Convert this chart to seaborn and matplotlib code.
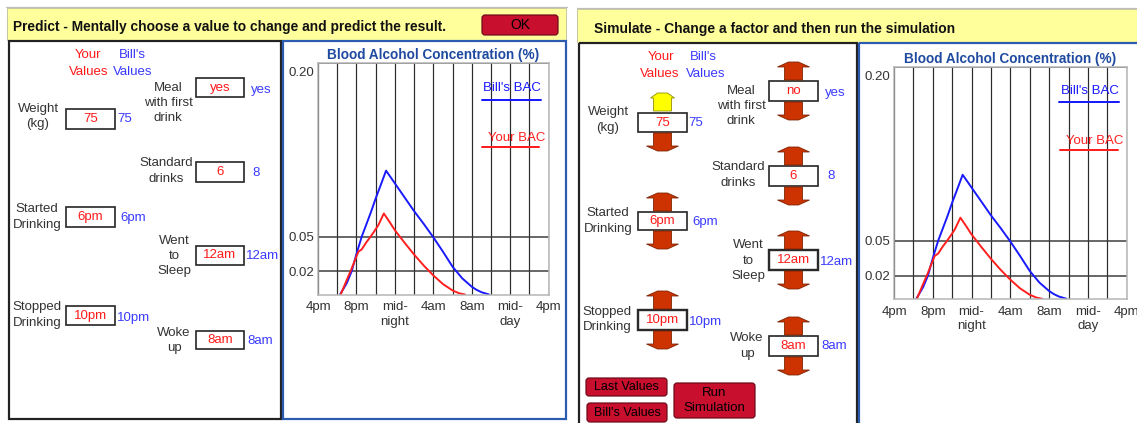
import matplotlib
matplotlib.use("Agg")
import matplotlib.pyplot as plt
import matplotlib.transforms as mtransforms
import seaborn as sns
from matplotlib.patches import Rectangle, FancyBboxPatch, Polygon
from matplotlib.lines import Line2D

# ---------------- data ----------------
# hours after 4pm
bill_hours = [2.3, 3.0, 3.5, 4.0, 4.55, 5.5, 6.0, 6.5, 7.08, 8.0, 9.0, 10.0, 11.0,
              12.0, 13.0, 14.0, 15.0, 16.0, 16.5, 17.0, 17.8]
bill_bac = [0.0, 0.010, 0.020, 0.035, 0.050, 0.071, 0.083, 0.094, 0.107, 0.096, 0.084,
            0.072, 0.061, 0.0494, 0.037, 0.024, 0.014, 0.0067, 0.004, 0.002, 0.0]
your_hours = [2.36, 2.99, 3.51, 3.85, 4.2, 4.55, 5.07, 5.42, 5.76, 6.28, 6.85, 7.5,
              8.0, 9.0, 10.0, 11.0, 12.0, 13.0, 14.0, 14.7, 15.3]
your_bac = [0.0, 0.0125, 0.0226, 0.0298, 0.037, 0.039, 0.0456, 0.0494, 0.0534, 0.060,
            0.0700, 0.062, 0.0555, 0.0448, 0.0345, 0.025, 0.0165, 0.009, 0.0035, 0.001, 0.0]

grid_hours = [2, 4, 6, 8, 10, 12, 14, 16, 18, 20, 22]
xtick_hours = [0, 4, 8, 12, 16, 20, 24]
xtick_labels = ["4pm", "8pm", "mid-\nnight", "4am", "8am", "mid-\nday", "4pm"]
ytick_values = [0.02, 0.05, 0.20]
ytick_labels = ["0.02", "0.05", "0.20"]

factor_labels = ["Weight\n(kg)", "Meal\nwith first\ndrink", "Standard\ndrinks",
                 "Started\nDrinking", "Went\nto\nSleep", "Stopped\nDrinking", "Woke\nup"]
predict_your_values = ["75", "yes", "6", "6pm", "12am", "10pm", "8am"]
simulate_your_values = ["75", "no", "6", "6pm", "12am", "10pm", "8am"]
bills_values = ["75", "yes", "8", "6pm", "12am", "10pm", "8am"]

predict_title = "Predict - Mentally choose a value to change and predict the result."
simulate_title = "Simulate - Change a factor and then run the simulation"
chart_title = "Blood Alcohol Concentration (%)"

# ---------------- style ----------------
sns.set_theme(style="white")
plt.rcParams['font.family'] = ['Liberation Sans', 'DejaVu Sans']

W, H = 1137, 423
PX = 0.72
YELLOW = "#ffff9c"
PANEL_BLUE = "#2b5cb0"
TITLE_BLUE = "#1f4aa0"
VAL_BLUE = "#3a3aff"
VAL_RED = "#ff1a1a"
LAB = "#333333"
BTN = "#c8102e"
ARROW = "#cc3300"
FS = 9.5
LS = 1.35

fig = plt.figure(figsize=(W / 100, H / 100), dpi=100)
bg = fig.add_axes([0, 0, 1, 1], zorder=0)
bg.set_xlim(0, W)
bg.set_ylim(H, 0)
bg.axis('off')


def rect(x0, y0, x1, y1, fc='none', ec='#222222', lw=1.0, z=1):
    bg.add_patch(Rectangle((x0, y0), x1 - x0, y1 - y0, facecolor=fc, edgecolor=ec,
                           linewidth=lw * PX, zorder=z))


def button(x0, y0, x1, y1, text, fs=9):
    bg.add_patch(FancyBboxPatch((x0, y0), x1 - x0, y1 - y0,
                                boxstyle="round,pad=0,rounding_size=3",
                                facecolor=BTN, edgecolor="#6a0a18", linewidth=1.2 * PX, zorder=2))
    bg.text((x0 + x1) / 2, (y0 + y1) / 2, text, ha='center', va='center', fontsize=fs,
            color='black', linespacing=1.4, zorder=3)


def arrow(cx, y0, y1, up=True, fc=ARROW, ec="#7a2200", hw=16, sw=9, tw=5, hh=5):
    if up:
        pts = [(cx - tw, y0), (cx + tw, y0), (cx + hw, y0 + hh), (cx + sw, y0 + hh),
               (cx + sw, y1), (cx - sw, y1), (cx - sw, y0 + hh), (cx - hw, y0 + hh)]
    else:
        pts = [(cx - sw, y0), (cx + sw, y0), (cx + sw, y1 - hh), (cx + hw, y1 - hh),
               (cx + tw, y1), (cx - tw, y1), (cx - hw, y1 - hh), (cx - sw, y1 - hh)]
    bg.add_patch(Polygon(pts, closed=True, facecolor=fc, edgecolor=ec, linewidth=0.8 * PX, zorder=2))


def controls(layout, your_vals, arrows=False, thick=()):
    for i, (lab, yv, bv) in enumerate(zip(factor_labels, your_vals, bills_values)):
        lx, ly, x0, y0, x1, y1, bx, by = layout[i]
        bg.text(lx, ly, lab, ha='center', va='center', ma='center', fontsize=FS,
                color=LAB, linespacing=LS, zorder=3)
        rect(x0, y0, x1, y1, fc='white', ec='#2a2a2a', lw=2.4 if i in thick else 1.7, z=2)
        bg.text((x0 + x1) / 2, (y0 + y1) / 2, yv, ha='center', va='center', fontsize=FS,
                color=VAL_RED, zorder=3)
        bg.text(bx, by, bv, ha='left', va='center', fontsize=FS, color=VAL_BLUE, zorder=3)
        if arrows:
            cx = (x0 + x1) / 2
            if i == 0:
                arrow(cx, y0 - 20, y0 - 2, up=True, fc="#ffff00", ec="#8a8a00", hw=12)
            else:
                arrow(cx, y0 - 19, y0 - 1, up=True)
            arrow(cx, y1 + 1, y1 + 19, up=False)


def chart(rect_px):
    x0, y_top, x1, y_bot = rect_px
    ax = fig.add_axes([x0 / W, (H - y_bot) / H, (x1 - x0) / W, (y_bot - y_top) / H], zorder=1)
    ax.set_facecolor('white')
    sns.lineplot(x=bill_hours, y=bill_bac, ax=ax, color="#1a1aff", linewidth=1.4)
    sns.lineplot(x=your_hours, y=your_bac, ax=ax, color="#ff1f1f", linewidth=1.4)
    ax.set_xlim(0, 24)
    ax.set_ylim(0, 0.20)
    ax.set_xticks(xtick_hours)
    ax.set_xticklabels(xtick_labels, fontsize=FS, color=LAB, linespacing=1.3)
    ax.set_xticks(grid_hours, minor=True)
    ax.set_yticks(ytick_values)
    ax.set_yticklabels(ytick_labels, fontsize=FS, color=LAB)
    ax.tick_params(axis='both', which='both', length=0)
    ax.tick_params(axis='x', pad=5)
    ax.tick_params(axis='y', pad=3)
    top_lab = ax.get_yticklabels()[2]
    top_lab.set_verticalalignment('top')
    top_lab.set_transform(top_lab.get_transform() +
                          mtransforms.ScaledTranslation(0, -4 / 100, fig.dpi_scale_trans))
    ax.grid(True, which='both', axis='x', color='#2b2b2b', linewidth=1.2 * PX)
    ax.grid(True, which='major', axis='y', color='#3a3a3a', linewidth=1.5 * PX)
    for s in ax.spines.values():
        s.set_color('#b4b4b4')
        s.set_linewidth(1.5 * PX)
        s.set_visible(True)
    ax.set_xlabel('')
    ax.set_ylabel('')
    ax.set_title(chart_title, fontsize=9.8, fontweight='bold', color=TITLE_BLUE, pad=3)
    return ax


# ---------------- Predict (left) ----------------
bg.add_line(Line2D([6, 567], [7.5, 7.5], color='#bdbdbd', linewidth=1.2 * PX, zorder=1))
rect(7, 8, 566, 40, fc=YELLOW, ec='#c8c8a0', lw=1)
bg.text(13, 27, predict_title, ha='left', va='center', fontsize=9.95, fontweight='bold', color='#111111')
button(482, 15, 558, 35, "OK", fs=10)
rect(9, 41, 281, 419, ec='#222222', lw=2.2)
rect(283, 41, 566, 419, ec=PANEL_BLUE, lw=2.2)

bg.text(88, 55, "Your", ha='center', va='center', fontsize=FS, color=VAL_RED)
bg.text(89, 72, "Values", ha='center', va='center', fontsize=FS, color=VAL_RED)
bg.text(132, 55, "Bill's", ha='center', va='center', fontsize=FS, color=VAL_BLUE)
bg.text(133, 72, "Values", ha='center', va='center', fontsize=FS, color=VAL_BLUE)

predict_layout = [
    (38, 116.5, 66, 109, 115, 129, 117, 119),
    (168, 103, 196, 78, 244, 97, 251, 90),
    (166, 171, 196, 162, 244, 182, 252, 173),
    (37, 217, 66, 207, 115, 227, 120, 218),
    (174, 256, 196, 246, 244, 265, 246, 256),
    (37, 315, 66, 306, 115, 325, 117, 318),
    (174, 340.5, 196, 331, 244, 349, 247, 341),
]
controls(predict_layout, predict_your_values)
chart((318, 63, 548.7, 294.5))

# ---------------- Simulate (right) ----------------
bg.add_line(Line2D([577, 1137], [8.5, 8.5], color='#bdbdbd', linewidth=1.2 * PX, zorder=1))
rect(577, 9, 1140, 42, fc=YELLOW, ec='#c8c8a0', lw=1)
bg.text(594, 29.5, simulate_title, ha='left', va='center', fontsize=10.0, fontweight='bold', color='#111111')
rect(579, 43, 857, 428, ec='#222222', lw=2.2)
rect(859, 43, 1142, 428, ec=PANEL_BLUE, lw=2.2)

bg.text(661, 57, "Your", ha='center', va='center', fontsize=FS, color=VAL_RED)
bg.text(660, 74, "Values", ha='center', va='center', fontsize=FS, color=VAL_RED)
bg.text(703, 57, "Bill's", ha='center', va='center', fontsize=FS, color=VAL_BLUE)
bg.text(706, 74, "Values", ha='center', va='center', fontsize=FS, color=VAL_BLUE)

simulate_layout = [
    (608, 120, 638, 113, 687, 132, 688, 123),
    (741, 106, 769, 81, 818, 101, 825, 93),
    (738, 175, 769, 166, 818, 186, 827, 176),
    (608, 221, 638, 212, 687, 230, 692, 222),
    (748, 260.5, 769, 250, 818, 270, 820, 262),
    (607, 319.5, 638, 310, 687, 330, 689, 322),
    (747, 346, 769, 336, 818, 356, 821, 346),
]
controls(simulate_layout, simulate_your_values, arrows=True, thick=(4, 5))
button(586, 378, 667, 396, "Last Values", fs=9)
button(587, 403, 667, 422, "Bill's Values", fs=9)
button(674, 383, 755, 418, "Run\nSimulation", fs=9.5)

chart((894, 67, 1126.7, 298.8))

# ---------------- overlay for legends ----------------
fg = fig.add_axes([0, 0, 1, 1], zorder=5)
fg.set_xlim(0, W)
fg.set_ylim(H, 0)
fg.axis('off')
fg.patch.set_alpha(0)


def legend(xt, yt, y_line, x0, x1, text, color):
    fg.text(xt, yt, text, ha='center', va='center', fontsize=FS, color=color)
    fg.add_line(Line2D([x0, x1], [y_line, y_line], color=color, linewidth=2.0 * PX))


legend(512, 88, 100, 482, 541, "Bill's BAC", "#1a1aff")
legend(517, 138, 147, 482, 539, "Your BAC", "#ff1f1f")
legend(1089.5, 91, 102, 1059, 1119, "Bill's BAC", "#1a1aff")
legend(1094.5, 141, 150, 1060, 1118, "Your BAC", "#ff1f1f")

fig.savefig("out.png", dpi=100)
